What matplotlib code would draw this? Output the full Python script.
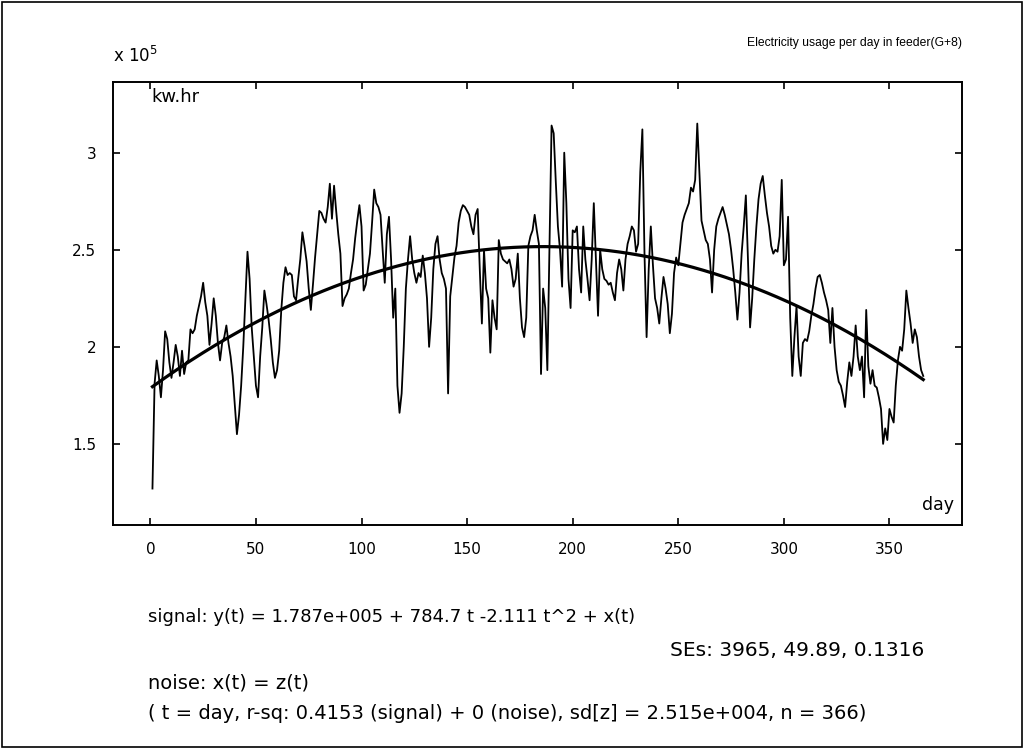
import numpy as np
import matplotlib.pyplot as plt
from matplotlib.patches import Rectangle

plt.rcParams['font.family'] = ['DejaVu Sans']

# daily electricity usage of feeder (G+8), in units of 1e5 kw.hr
days = np.arange(1, 367)
usage = [
    1.27, 1.81, 1.93, 1.85, 1.74, 1.88, 2.08, 2.04, 1.92, 1.84,
    1.92, 2.01, 1.95, 1.85, 1.98, 1.86, 1.92, 1.93, 2.09, 2.07,
    2.09, 2.16, 2.21, 2.26, 2.33, 2.23, 2.16, 2.01, 2.12, 2.25,
    2.16, 2.02, 1.93, 2.02, 2.05, 2.11, 2.02, 1.95, 1.85, 1.70,
    1.55, 1.65, 1.80, 2.00, 2.25, 2.49, 2.35, 2.10, 1.95, 1.80,
    1.74, 1.95, 2.10, 2.29, 2.22, 2.14, 2.04, 1.92, 1.84, 1.88,
    1.98, 2.19, 2.33, 2.41, 2.37, 2.38, 2.37, 2.26, 2.24, 2.35,
    2.45, 2.59, 2.52, 2.44, 2.30, 2.19, 2.32, 2.46, 2.58, 2.70,
    2.69, 2.66, 2.64, 2.72, 2.84, 2.66, 2.83, 2.70, 2.58, 2.48,
    2.21, 2.25, 2.27, 2.30, 2.38, 2.45, 2.56, 2.65, 2.73, 2.62,
    2.29, 2.32, 2.40, 2.48, 2.64, 2.81, 2.74, 2.72, 2.68, 2.50,
    2.33, 2.58, 2.67, 2.45, 2.15, 2.30, 1.80, 1.66, 1.76, 2.00,
    2.30, 2.45, 2.57, 2.45, 2.38, 2.33, 2.38, 2.36, 2.47, 2.38,
    2.25, 2.00, 2.15, 2.40, 2.53, 2.57, 2.45, 2.38, 2.35, 2.30,
    1.76, 2.26, 2.36, 2.46, 2.52, 2.64, 2.70, 2.73, 2.72, 2.70,
    2.68, 2.62, 2.58, 2.68, 2.71, 2.40, 2.12, 2.50, 2.30, 2.25,
    1.97, 2.24, 2.15, 2.09, 2.55, 2.48, 2.45, 2.44, 2.43, 2.45,
    2.40, 2.31, 2.35, 2.48, 2.25, 2.10, 2.05, 2.15, 2.52, 2.57,
    2.60, 2.68, 2.60, 2.53, 1.86, 2.30, 2.20, 1.88, 2.50, 3.14,
    3.10, 2.85, 2.62, 2.50, 2.31, 3.00, 2.74, 2.35, 2.20, 2.60,
    2.59, 2.62, 2.40, 2.28, 2.62, 2.45, 2.35, 2.24, 2.45, 2.74,
    2.45, 2.16, 2.50, 2.40, 2.35, 2.34, 2.32, 2.33, 2.28, 2.24,
    2.38, 2.45, 2.40, 2.29, 2.45, 2.53, 2.57, 2.62, 2.60, 2.49,
    2.53, 2.90, 3.12, 2.48, 2.05, 2.40, 2.62, 2.42, 2.25, 2.20,
    2.12, 2.25, 2.36, 2.30, 2.22, 2.07, 2.17, 2.38, 2.46, 2.42,
    2.53, 2.64, 2.68, 2.71, 2.74, 2.82, 2.80, 2.86, 3.15, 2.90,
    2.65, 2.60, 2.55, 2.53, 2.45, 2.28, 2.50, 2.62, 2.66, 2.69,
    2.72, 2.68, 2.63, 2.58, 2.50, 2.40, 2.28, 2.14, 2.28, 2.48,
    2.62, 2.78, 2.45, 2.10, 2.25, 2.45, 2.62, 2.76, 2.84, 2.88,
    2.78, 2.69, 2.62, 2.52, 2.48, 2.50, 2.49, 2.57, 2.86, 2.42,
    2.45, 2.67, 2.15, 1.85, 2.05, 2.21, 1.95, 1.85, 2.02, 2.04,
    2.03, 2.08, 2.16, 2.22, 2.30, 2.36, 2.37, 2.33, 2.28, 2.24,
    2.19, 2.02, 2.20, 2.00, 1.88, 1.82, 1.80, 1.75, 1.69, 1.82,
    1.92, 1.85, 1.95, 2.11, 1.95, 1.88, 1.95, 1.74, 2.19, 1.90,
    1.81, 1.88, 1.80, 1.79, 1.74, 1.68, 1.50, 1.58, 1.52, 1.68,
    1.64, 1.61, 1.80, 1.93, 2.00, 1.98, 2.09, 2.29, 2.20, 2.12,
    2.02, 2.09, 2.05, 1.95, 1.88, 1.85,
]

# quadratic trend coefficients (kw.hr)
coef = [1.787e5, 784.7, -2.111]
trend = (coef[0] + coef[1] * days + coef[2] * days ** 2) / 1e5

xticks = [0, 50, 100, 150, 200, 250, 300, 350]
yticks = [1.5, 2, 2.5, 3]
ytick_labels = ['1.5', '2', '2.5', '3']

fig = plt.figure(figsize=(10.27, 7.49), dpi=100)
ax = fig.add_axes([0.110, 0.299, 0.827, 0.592])

ax.plot(days, usage, color='black', lw=1.3)
ax.plot(days, trend, color='black', lw=2.3)

ax.set_xlim(-17.7, 384.5)
ax.set_ylim(1.082, 3.366)
ax.set_xticks(xticks)
ax.set_yticks(yticks)
ax.set_yticklabels(ytick_labels)
ax.tick_params(direction='in', length=5, width=1.2, top=True, right=True,
               labelsize=11, pad=12)
for s in ax.spines.values():
    s.set_linewidth(1.4)

ax.text(0.045, 0.985, 'kw.hr', transform=ax.transAxes, fontsize=13,
        va='top', ha='left')
ax.text(0.99, 0.025, 'day', transform=ax.transAxes, fontsize=12.5,
        va='bottom', ha='right')
fig.text(0.110, 0.912, r'x 10$^5$', fontsize=12, va='bottom', ha='left')
fig.text(0.937, 0.935, 'Electricity usage per day in feeder(G+8)',
         fontsize=8.7, family=['Liberation Sans'], va='bottom', ha='right')

# fit summary under the axes
fig.text(0.144, 0.176, 'signal: y(t) = 1.787e+005 + 784.7 t -2.111 t^2 + x(t)',
         fontsize=13, va='center', ha='left')
fig.text(0.900, 0.132, 'SEs: 3965, 49.89, 0.1316',
         fontsize=14.5, va='center', ha='right')
fig.text(0.144, 0.088, 'noise: x(t) = z(t)',
         fontsize=14, va='center', ha='left')
fig.text(0.144, 0.048,
         '( t = day, r-sq: 0.4153 (signal) + 0 (noise), sd[z] = 2.515e+004, n = 366)',
         fontsize=14, va='center', ha='left')

fig.patches.append(Rectangle((0.002, 0.003), 0.993, 0.994, transform=fig.transFigure,
                             fill=False, edgecolor='black', lw=1.2))

fig.savefig('out.png', dpi=100)
